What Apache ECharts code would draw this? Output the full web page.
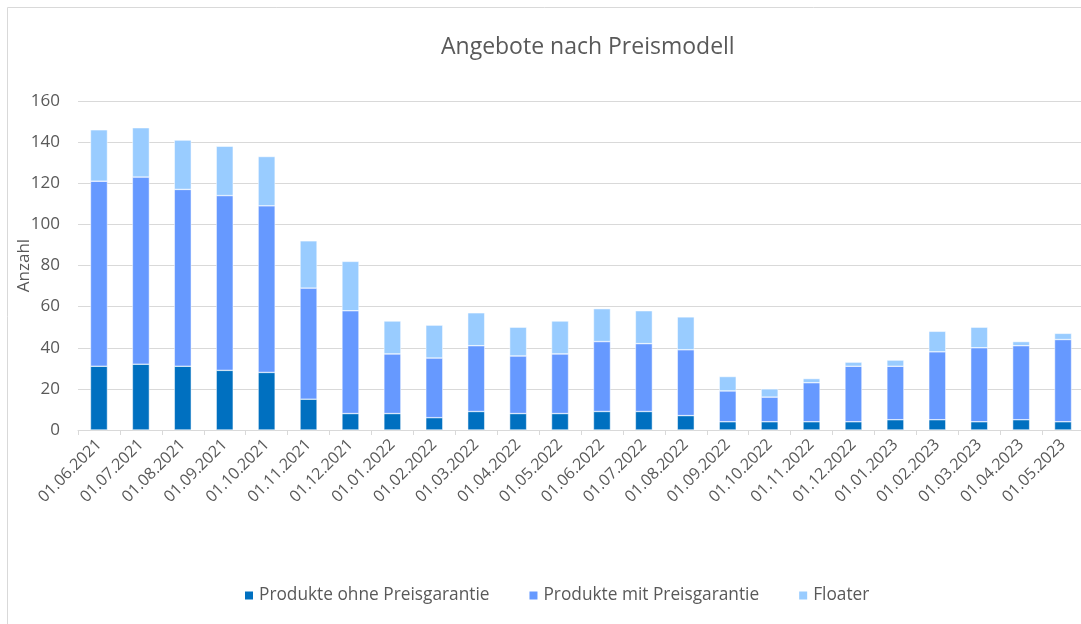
<!DOCTYPE html>
<html>
<head>
<meta charset="utf-8">
<script src="https://cdn.jsdelivr.net/npm/echarts@6/dist/echarts.min.js"></script>
<style>
  html, body { margin: 0; padding: 0; background: #fff; }
  #chart { width: 1081px; height: 624px; }
</style>
</head>
<body>
<div id="chart"></div>
<script>
// Monatswerte
const months = [
  '01.06.2021', '01.07.2021', '01.08.2021', '01.09.2021', '01.10.2021', '01.11.2021',
  '01.12.2021', '01.01.2022', '01.02.2022', '01.03.2022', '01.04.2022', '01.05.2022',
  '01.06.2022', '01.07.2022', '01.08.2022', '01.09.2022', '01.10.2022', '01.11.2022',
  '01.12.2022', '01.01.2023', '01.02.2023', '01.03.2023', '01.04.2023', '01.05.2023'
]
const ohnePreisgarantie = [31, 32, 31, 29, 28, 15, 8, 8, 6, 9, 8, 8, 9, 9, 7, 4, 4, 4, 4, 5, 5, 4, 5, 4]
const mitPreisgarantie = [90, 91, 86, 85, 81, 54, 50, 29, 29, 32, 28, 29, 34, 33, 32, 15, 12, 19, 27, 26, 33, 36, 36, 40]
const floater = [25, 24, 24, 24, 24, 23, 24, 16, 16, 16, 14, 16, 16, 16, 16, 7, 4, 2, 2, 3, 10, 10, 2, 3]

const textColor = '#595959'
const font = '"Open Sans", sans-serif'

const chart = echarts.init(document.getElementById('chart'))

const barSeries = (name, data, color) => ({
  name,
  type: 'bar',
  stack: 'total',
  data,
  barWidth: 17,
  itemStyle: { color, borderColor: '#ffffff', borderWidth: 0.5 }
})

chart.setOption({
  animation: false,
  textStyle: { fontFamily: font },
  title: {
    text: 'Angebote nach Preismodell',
    left: 436,
    top: 31,
    textStyle: { fontSize: 23, fontWeight: 'normal', color: textColor, fontFamily: font }
  },
  graphic: [{
    type: 'rect',
    shape: { x: 7.5, y: 7.5, width: 1100, height: 660 },
    style: { fill: 'none', stroke: '#d9d9d9', lineWidth: 1 }
  }],
  legend: {
    top: 582,
    left: 238,
    itemWidth: 10,
    itemHeight: 10,
    itemGap: 38,
    icon: 'rect',
    textStyle: { fontSize: 17.3, color: textColor, fontFamily: font },
    data: ['Produkte ohne Preisgarantie', 'Produkte mit Preisgarantie', 'Floater']
  },
  grid: { left: 78, right: -3, top: 101, bottom: 194, outerBoundsMode: 'none' },
  xAxis: {
    type: 'category',
    data: months,
    axisLine: { lineStyle: { color: '#d9d9d9' } },
    axisTick: { show: true, alignWithLabel: false, length: 5, lineStyle: { color: '#d9d9d9' } },
    axisLabel: { rotate: 45, color: textColor, fontSize: 16, margin: 12, interval: 0 }
  },
  yAxis: {
    type: 'value',
    min: 0,
    max: 160,
    interval: 20,
    name: 'Anzahl',
    nameLocation: 'middle',
    nameGap: 45,
    nameMoveOverlap: false,
    nameTextStyle: { color: textColor, fontSize: 17 },
    axisLine: { show: false },
    axisTick: { show: false },
    axisLabel: { color: textColor, fontSize: 17, margin: 18 },
    splitLine: { lineStyle: { color: '#d9d9d9' } }
  },
  series: [
    barSeries('Produkte ohne Preisgarantie', ohnePreisgarantie, '#0070c0'),
    barSeries('Produkte mit Preisgarantie', mitPreisgarantie, '#6699ff'),
    barSeries('Floater', floater, '#99ccff')
  ]
})
</script>
</body>
</html>
